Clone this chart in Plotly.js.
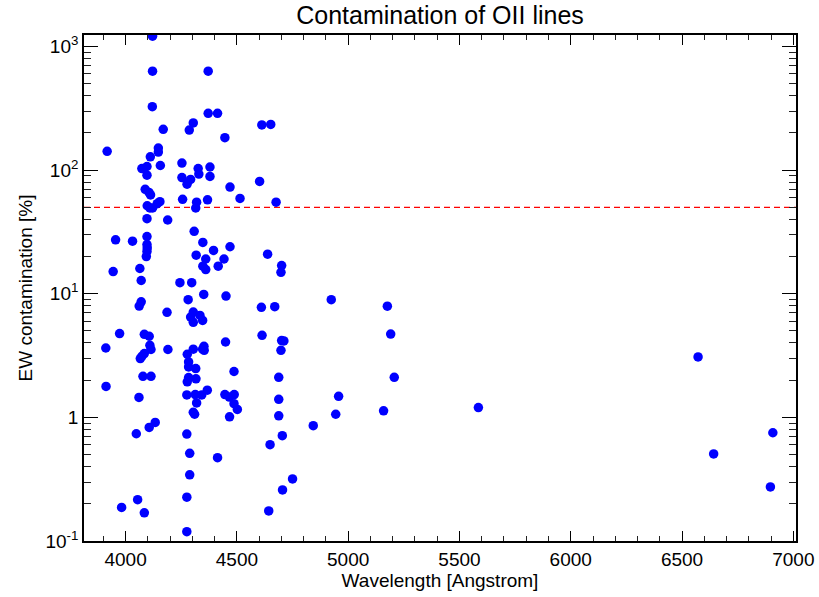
<!DOCTYPE html>
<html>
<head>
<meta charset="utf-8">
<script src="https://cdn.plot.ly/plotly-3.0.1.min.js"></script>
<style>
  html, body { margin: 0; padding: 0; background: #fff; }
  #chart { width: 819px; height: 597px; }
</style>
</head>
<body>
<div id="chart"></div>
<script>
// Rest-frame wavelength of each line [Angstrom]
var wavelength = [
  4121, 4121, 4120, 4371, 4371, 4413, 4304, 4286, 4169, 4446,
  4612, 4652, 3917, 4147, 4147, 4111, 4253, 4156, 4073, 4096,
  4096, 4326, 4329, 4379, 4379, 4253, 4292, 4276, 4469, 4602,
  4088, 4105, 4112, 4154, 4142, 4097, 4109, 4121, 4256, 4319,
  4315, 4368, 4514, 4676, 4096, 4189, 4308, 4096, 3955, 4031,
  4096, 4097, 4096, 4093, 4347, 4395, 4469, 4638, 4317, 4360,
  4442, 4347, 4360, 4416, 4701, 4698, 3944, 4064, 4070, 4244,
  4297, 4351, 4451, 4281, 4070, 4061, 4186, 4304, 4292, 4304,
  4334, 4346, 4610, 4670, 4924, 5176, 3973, 4084, 4106, 4109,
  4114, 3911, 4190, 4073, 4066, 4084, 4304, 4346, 4352, 4353,
  4449, 4613, 4701, 4711, 4698, 5191, 4277, 4283, 4283, 4315,
  4487, 4078, 4114, 3912, 4060, 4283, 4277, 4316, 4275, 4313,
  4342, 4367, 4319, 4304, 4310, 4446, 4466, 4488, 4487, 4502,
  4467, 4688, 4688, 4688, 4133, 4106, 4048, 4275, 4288, 4413,
  4649, 4704, 4288, 4275, 4054, 3982, 4084, 4275, 4643, 4705,
  4750, 5207, 4957, 4944, 5159, 5585, 4843, 6572, 6908, 6642,
  6897
];

// Equivalent-width contamination of each line [%]
var ewContamination = [
  1211, 632, 326, 632, 288, 288, 241, 211, 214, 183,
  232, 234, 142, 151, 140, 128, 114, 109, 103, 107,
  91, 103, 93, 106, 89, 87, 84, 77, 73, 81,
  70, 66, 63, 55.5, 53.5, 51.5, 49.4, 49.4, 58, 55,
  49.4, 57.5, 59, 55, 40.5, 39.5, 32, 29, 27.3, 26.6,
  25, 23.5, 22, 20, 26, 22.4, 24, 20.9, 20.5, 19.1,
  19.1, 16.7, 15.7, 16.7, 16.9, 14.9, 15.1, 16.0, 12.8, 12.3,
  12.3, 9.87, 9.57, 8.95, 8.61, 7.95, 7.07, 7.11, 6.48, 5.87,
  6.68, 6.09, 7.76, 7.86, 8.95, 7.94, 4.76, 4.7, 4.53, 3.83,
  3.54, 3.64, 3.54, 3.12, 2.99, 3.28, 3.56, 3.56, 3.76, 3.49,
  4.07, 4.61, 4.18, 4.15, 3.49, 4.72, 3.24, 2.81, 2.56, 2.48,
  2.35, 2.15, 2.15, 1.78, 1.45, 2.1, 1.94, 2.05, 1.52, 1.53,
  1.52, 1.66, 1.31, 1.10, 1.06, 1.53, 1.46, 1.53, 1.29, 1.16,
  1.01, 2.11, 1.40, 1.03, 0.911, 0.83, 0.737, 0.733, 0.512, 0.472,
  0.601, 0.711, 0.343, 0.226, 0.216, 0.187, 0.169, 0.119, 0.175, 0.259,
  0.318, 2.11, 1.48, 1.06, 1.13, 1.20, 0.856, 3.08, 0.751, 0.506,
  0.274
];

// Contamination limit [%]
var threshold = 50;

// Axis extents and labelled decades
var xRange = [3813, 7012];
var yDecadeRange = [-1, 3.093];
var yTickValues = [0.1, 1, 10, 100, 1000];
var yTickLabels = ['10<sup>-1</sup>', '1', '10<sup>1</sup>', '10<sup>2</sup>', '10<sup>3</sup>'];

// Minor log ticks at 2..9 within every decade
var yMinorTicks = [];
for (var p = -1; p <= 3; p++) {
  for (var m = 2; m <= 9; m++) {
    yMinorTicks.push(m * Math.pow(10, p));
  }
}

var font = 'Liberation Sans, Arial, Helvetica, sans-serif';

var traces = [
  {
    type: 'scatter',
    mode: 'lines',
    x: xRange,
    y: [threshold, threshold],
    line: { color: '#ff0000', width: 1.2, dash: '6px,4px' },
    hoverinfo: 'skip',
    showlegend: false
  },
  {
    type: 'scatter',
    mode: 'markers',
    x: wavelength,
    y: ewContamination,
    marker: { color: '#0000ff', size: 9.5, line: { width: 0 } },
    showlegend: false
  }
];

var layout = {
  width: 819,
  height: 597,
  margin: { l: 84, r: 23, t: 35, b: 56, pad: 0 },
  paper_bgcolor: '#ffffff',
  plot_bgcolor: '#ffffff',
  font: { family: font, color: '#000000', size: 19 },
  title: {
    text: 'Contamination of OII lines',
    font: { family: font, size: 25, color: '#000000' },
    xref: 'paper',
    x: 0.5,
    xanchor: 'center',
    yref: 'container',
    y: 1 - 15 / 597,
    yanchor: 'middle'
  },
  xaxis: {
    range: xRange,
    tick0: 0,
    dtick: 500,
    ticks: 'inside',
    ticklen: 10,
    tickwidth: 1,
    tickcolor: '#000000',
    mirror: 'ticks',
    showline: true,
    linecolor: '#000000',
    linewidth: 1.8,
    showgrid: false,
    zeroline: false,
    tickfont: { family: font, size: 19 },
    minor: { ticks: 'inside', ticklen: 5, tickwidth: 1, tickcolor: '#222222', tick0: 0, dtick: 100, showgrid: false },
    title: { text: 'Wavelength [Angstrom]', font: { family: font, size: 19 }, standoff: 4 }
  },
  yaxis: {
    type: 'log',
    range: yDecadeRange,
    tickmode: 'array',
    tickvals: yTickValues,
    ticktext: yTickLabels,
    ticks: 'inside',
    ticklen: 14,
    tickwidth: 1,
    tickcolor: '#000000',
    mirror: 'ticks',
    showline: true,
    linecolor: '#000000',
    linewidth: 1.8,
    showgrid: false,
    zeroline: false,
    tickfont: { family: font, size: 19 },
    minor: { tickmode: 'array', tickvals: yMinorTicks, ticks: 'inside', ticklen: 7, tickwidth: 1, tickcolor: '#222222', showgrid: false },
    title: { text: 'EW contamination [%]', font: { family: font, size: 19 }, standoff: 8 }
  },
  hovermode: 'closest'
};

Plotly.newPlot('chart', traces, layout, { displayModeBar: false, staticPlot: true });
</script>
</body>
</html>
